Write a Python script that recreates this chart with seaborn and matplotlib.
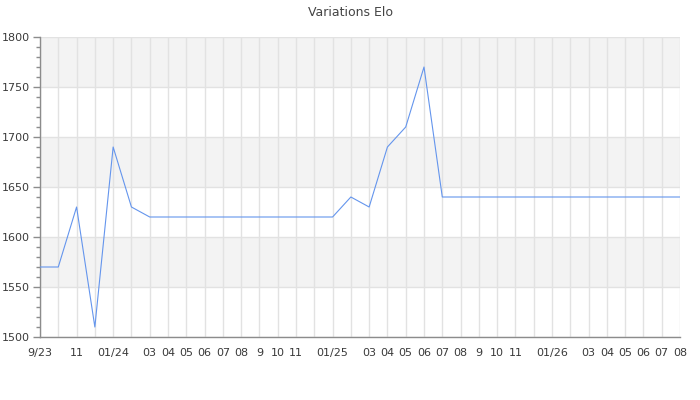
import matplotlib
matplotlib.use("Agg")
import matplotlib.pyplot as plt
import seaborn as sns
import pandas as pd
from matplotlib.ticker import MultipleLocator

months = ["9/23", "", "11", "", "01/24", "", "03", "04", "05", "06", "07", "08",
          "9", "10", "11", "", "01/25", "", "03", "04", "05", "06", "07", "08",
          "9", "10", "11", "", "01/26", "", "03", "04", "05", "06", "07", "08"]
elo = [1570, 1570, 1630, 1510, 1690, 1630, 1620, 1620, 1620, 1620, 1620, 1620,
       1620, 1620, 1620, 1620, 1620, 1640, 1630, 1690, 1710, 1770, 1640, 1640,
       1640, 1640, 1640, 1640, 1640, 1640, 1640, 1640, 1640, 1640, 1640, 1640]
title = "Variations Elo"
y_min, y_max, y_step = 1500, 1800, 50

sns.set_style("white")
plt.rcParams['font.family'] = ['DejaVu Sans']

df = pd.DataFrame({"idx": range(len(elo)), "elo": elo})

fig = plt.figure(figsize=(7, 4), dpi=100)
ax = fig.add_axes([40/700, 63/400, 640/700, 300/400])

# alternating bands
for i, lo in enumerate(range(y_min, y_max, y_step)):
    if i % 2 == 1:
        ax.axhspan(lo, lo + y_step, color="#f3f3f3", zorder=0, lw=0)

sns.lineplot(data=df, x="idx", y="elo", ax=ax, color="#6495ed", linewidth=0.8, zorder=3)

ax.set_xlim(0, len(elo) - 1)
ax.set_ylim(y_min, y_max)
ax.set_xticks(range(len(elo)))
ax.set_xticklabels(months)
ax.yaxis.set_major_locator(MultipleLocator(50))
ax.yaxis.set_minor_locator(MultipleLocator(10))
ax.grid(True, which="major", color="#e2e2e2", linewidth=1, zorder=1)
ax.set_axisbelow(True)
ax.set_xlabel("")
ax.set_ylabel("")

for s in ["top", "right"]:
    ax.spines[s].set_visible(False)
for s in ["left", "bottom"]:
    ax.spines[s].set_color("#8c8c8c")
    ax.spines[s].set_linewidth(1)

ax.tick_params(axis="x", length=0, pad=8, labelsize=8, labelcolor="#3a3a3a")
ax.tick_params(axis="y", which="major", length=5, width=1, color="#8c8c8c",
               labelsize=8, labelcolor="#3a3a3a", pad=2, left=True)
ax.tick_params(axis="y", which="minor", length=3, width=1, color="#8c8c8c", left=True)

fig.suptitle(title, y=1 - 12/400, va="center", fontsize=9, color="#444444")

fig.savefig("out.png", dpi=100)
